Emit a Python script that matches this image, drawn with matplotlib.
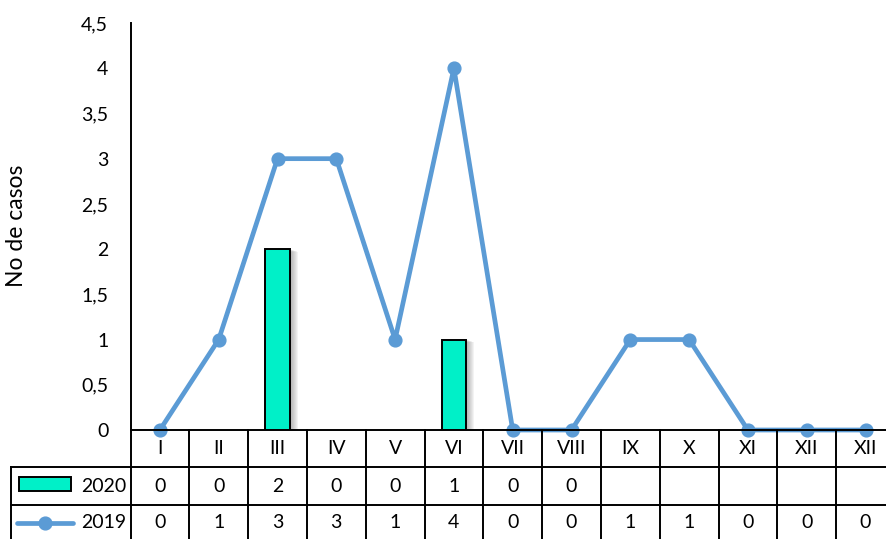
import matplotlib
matplotlib.use("Agg")
import matplotlib.pyplot as plt
import matplotlib.transforms as mtransforms
from matplotlib.patches import Rectangle
from matplotlib.lines import Line2D

plt.rcParams["font.family"] = ["Lato", "DejaVu Sans"]

# ---- data ----
months = ["I", "II", "III", "IV", "V", "VI", "VII", "VIII", "IX", "X", "XI", "XII", "XII"]
cases_2020 = [0, 0, 2, 0, 0, 1, 0, 0]
cases_2019 = [0, 1, 3, 3, 1, 4, 0, 0, 1, 1, 0, 0, 0]
yticks = [0, 0.5, 1, 1.5, 2, 2.5, 3, 3.5, 4, 4.5]
ytick_labels = ["0", "0,5", "1", "1,5", "2", "2,5", "3", "3,5", "4", "4,5"]
series_labels = ["2020", "2019"]
y_label = "No de casos"

BAR_COLOR = "#00F0C8"
LINE_COLOR = "#5B9BD5"
FS = 14
LW = 1.4
LINE_W = 3.4
MS = 9.2

W, H = 886, 539
fig = plt.figure(figsize=(W / 100, H / 100), dpi=100)

# plot area geometry in pixels
left_px, cat_w, n = 130.5, 58.8, len(months)
top_px, base_px = 23, 430
ax = fig.add_axes([left_px / W, (H - base_px) / H, n * cat_w / W, (base_px - top_px) / H])
ax.set_xlim(-0.5, n - 0.5)
ax.set_ylim(0, 4.5)

for s in ["top", "right", "bottom"]:
    ax.spines[s].set_visible(False)
ax.spines["left"].set_linewidth(LW)
ax.set_xticks([])
ax.set_yticks(yticks)
ax.set_yticklabels(ytick_labels, fontsize=FS)
ax.tick_params(axis="y", length=0, pad=16)

def fy(py):
    return 1 - py / H

def fx(px):
    return px / W

fig.text(fx(17), fy(226), y_label, rotation=90, ha="center", va="center", fontsize=16.5)

# ---- bars with soft shadow ----
bar_w = 0.42
x20 = [i for i, v in enumerate(cases_2020) if v > 0]
h20 = [cases_2020[i] for i in x20]
for xi, hv in zip(x20, h20):
    for d in range(1, 9):
        tr = mtransforms.offset_copy(ax.transData, fig=fig, x=d, y=-d * 0.3, units="dots")
        ax.add_patch(Rectangle((xi - bar_w / 2, 0), bar_w, hv, transform=tr,
                               facecolor="#606060", edgecolor="none",
                               alpha=0.07, zorder=2))
ax.bar(x20, h20, width=bar_w, color=BAR_COLOR, edgecolor="black",
       linewidth=LW, zorder=3)

# ---- line series ----
ax.plot(range(n), cases_2019, color=LINE_COLOR, lw=LINE_W, marker="o", ms=MS,
        zorder=5, clip_on=False, solid_capstyle="round", solid_joinstyle="round")

# ---- data table below the plot ----
bt = mtransforms.blended_transform_factory(ax.transData, fig.transFigure)
rows_px = [430, 467, 505, 542]
x_right = n - 0.5

# horizontal rules
fig.add_artist(Line2D([-0.5, x_right], [fy(rows_px[0])] * 2, transform=bt,
                      color="black", lw=LW, zorder=4))
for r in rows_px[1:3]:
    fig.add_artist(Line2D([fx(11), fx(W + 20)], [fy(r)] * 2,
                          transform=fig.transFigure, color="black", lw=LW))
# vertical rules
fig.add_artist(Line2D([fx(11), fx(11)], [fy(rows_px[1]), fy(rows_px[3])],
                      transform=fig.transFigure, color="black", lw=LW))
for k in range(n + 1):
    xb = k - 0.5
    fig.add_artist(Line2D([xb, xb], [fy(rows_px[0]), fy(rows_px[3])],
                          transform=bt, color="black", lw=LW))

hdr_y = fy((rows_px[0] + rows_px[1]) / 2)
r20_y = fy((rows_px[1] + rows_px[2]) / 2)
r19_y = fy((rows_px[2] + rows_px[3]) / 2 - 1)
for i, m in enumerate(months):
    fig.text(i, hdr_y, m, transform=bt, ha="center", va="center", fontsize=FS)
for i, v in enumerate(cases_2020):
    fig.text(i, r20_y, str(v), transform=bt, ha="center", va="center", fontsize=FS)
for i, v in enumerate(cases_2019):
    fig.text(i, r19_y, str(v), transform=bt, ha="center", va="center", fontsize=FS)

# legend keys inside the table label column
fig.add_artist(Rectangle((fx(19), fy(491)), fx(71) - fx(19), fy(477) - fy(491),
                         transform=fig.transFigure, facecolor=BAR_COLOR,
                         edgecolor="black", lw=LW))
fig.text(fx(126), r20_y, series_labels[0], ha="right", va="center", fontsize=FS)
fig.add_artist(Line2D([fx(17), fx(73)], [fy(523)] * 2, transform=fig.transFigure,
                      color=LINE_COLOR, lw=LINE_W, solid_capstyle="round"))
fig.add_artist(Line2D([fx(45)], [fy(523)], transform=fig.transFigure,
                      color=LINE_COLOR, marker="o", ms=MS, lw=0))
fig.text(fx(126), r19_y, series_labels[1], ha="right", va="center", fontsize=FS)

fig.savefig("out.png", dpi=100)
